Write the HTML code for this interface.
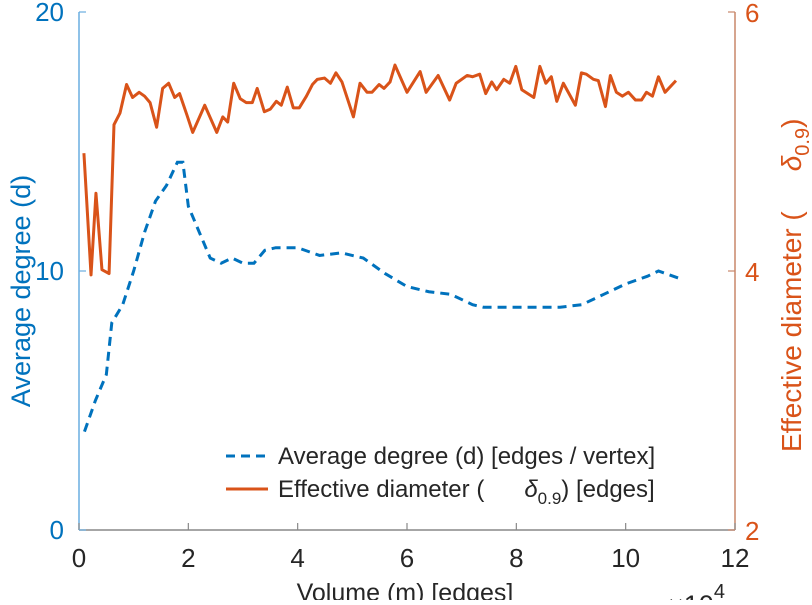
<!DOCTYPE html>
<html><head><meta charset="utf-8"><style>
body{margin:0;background:#fff}
svg text{font-family:"Liberation Sans",sans-serif}
</style></head><body>
<svg id="chart" width="812" height="600" xmlns="http://www.w3.org/2000/svg">
<g id="axes"></g>
<g id="series"></g>
<g id="legend">
  <line x1="226" y1="456" x2="268" y2="456" stroke="#0072BD" stroke-width="3" stroke-dasharray="9,6"/>
  <text x="278" y="464" font-size="24" fill="#262626">Average degree (d) [edges / vertex]</text>
  <line x1="226" y1="489" x2="268" y2="489" stroke="#D95319" stroke-width="3"/>
  <text x="278" y="497" font-size="24" fill="#262626">Effective diameter (<tspan dx="40" font-style="italic">δ</tspan><tspan font-size="17" dy="7">0.9</tspan><tspan dy="-7">) [edges]</tspan></text>
</g>
<text transform="translate(30,291) rotate(-90)" text-anchor="middle" font-size="27" fill="#0072BD">Average degree (d)</text>
<text transform="translate(801,452) rotate(-90)" font-size="28" fill="#D95319">Effective diameter (<tspan dx="40" font-style="italic">δ</tspan><tspan font-size="20" dy="8">0.9</tspan><tspan dy="-8">)</tspan></text>
<text x="405" y="601" text-anchor="middle" font-size="25" fill="#262626">Volume (m) [edges]</text>
<text x="668" y="614" font-size="27" fill="#262626">×10<tspan font-size="20" dy="-16">4</tspan></text>
</svg>
<script>
const blueX=[0.1,0.3,0.5,0.6,0.8,1.0,1.2,1.4,1.6,1.8,1.9,2.0,2.2,2.4,2.6,2.8,3.0,3.2,3.4,3.6,4.0,4.4,4.8,5.2,5.6,6.0,6.4,6.8,7.2,7.4,8.0,8.4,8.8,9.2,9.6,10.0,10.4,10.6,11.0];
const blueY=[3.8,5.0,6.0,8.0,8.7,10.0,11.5,12.7,13.3,14.2,14.2,12.5,11.5,10.5,10.3,10.5,10.3,10.3,10.8,10.9,10.9,10.6,10.7,10.5,9.9,9.4,9.2,9.1,8.7,8.6,8.6,8.6,8.6,8.7,9.1,9.5,9.8,10.0,9.7];
const orangeX=[0.09,0.22,0.31,0.42,0.55,0.64,0.75,0.87,0.98,1.1,1.2,1.3,1.42,1.53,1.64,1.75,1.84,1.97,2.08,2.3,2.52,2.63,2.72,2.83,2.95,3.06,3.17,3.26,3.39,3.5,3.61,3.7,3.81,3.92,4.03,4.16,4.27,4.36,4.49,4.6,4.7,4.81,5.02,5.14,5.27,5.36,5.49,5.58,5.69,5.78,6.0,6.24,6.35,6.57,6.78,6.9,7.1,7.2,7.33,7.44,7.55,7.64,7.77,7.88,7.99,8.1,8.32,8.43,8.54,8.64,8.74,8.86,9.08,9.19,9.28,9.41,9.5,9.63,9.72,9.83,9.94,10.05,10.18,10.29,10.38,10.49,10.6,10.72,10.92];
const orangeY=[4.91,3.97,4.6,4.01,3.98,5.13,5.22,5.44,5.34,5.38,5.35,5.3,5.11,5.41,5.45,5.34,5.37,5.21,5.07,5.28,5.07,5.19,5.15,5.45,5.33,5.3,5.3,5.41,5.23,5.25,5.31,5.28,5.42,5.26,5.26,5.35,5.44,5.48,5.49,5.45,5.53,5.46,5.19,5.45,5.38,5.38,5.44,5.41,5.46,5.59,5.38,5.54,5.38,5.51,5.32,5.45,5.51,5.5,5.52,5.37,5.46,5.4,5.48,5.45,5.58,5.4,5.34,5.58,5.45,5.5,5.31,5.45,5.28,5.53,5.52,5.48,5.47,5.27,5.51,5.38,5.35,5.38,5.32,5.32,5.38,5.35,5.5,5.38,5.47];
const xTicks=[0,2,4,6,8,10,12];
const leftTicks=[0,10,20];
const rightTicks=[2,4,6];
const L=79,R=735,T=12,B=530;
const sx=v=>L+(v-0)/12*(R-L);
const syL=v=>B-(v/20)*(B-T);
const syR=v=>B-((v-2)/4)*(B-T);
const NS='http://www.w3.org/2000/svg';
const axes=document.getElementById('axes'),series=document.getElementById('series');
function mk(tag,attrs,parent){const e=document.createElementNS(NS,tag);for(const k in attrs)e.setAttribute(k,attrs[k]);parent.appendChild(e);return e;}
let e;
e=mk('line',{x1:L,y1:B,x2:R,y2:B,stroke:'#888','stroke-width':1.5},axes);


e=mk('line',{x1:L,y1:T,x2:L,y2:B,stroke:'#6aaee0','stroke-width':1.5},axes);


e=mk('line',{x1:R,y1:T,x2:R,y2:B,stroke:'#c9876a','stroke-width':1.5},axes);


xTicks.forEach(t=>{const x=sx(t);
 e=mk('line',{x1:x,y1:B,x2:x,y2:B-7,stroke:'#888','stroke-width':1.2},axes);
 
 
 e=mk('text',{x:x,y:567,'text-anchor':'middle','font-size':26,fill:'#262626'},axes);e.textContent=t;
 
 
});
leftTicks.forEach(t=>{const y=syL(t);
 e=mk('line',{x1:L,y1:y,x2:L+7,y2:y,stroke:'#6aaee0','stroke-width':1.2},axes);
 
 
 e=mk('text',{x:L-15,y:y+9,'text-anchor':'end','font-size':26,fill:'#0072BD'},axes);e.textContent=t;
 
 
});
rightTicks.forEach(t=>{const y=syR(t);
 e=mk('line',{x1:R,y1:y,x2:R-7,y2:y,stroke:'#c9876a','stroke-width':1.2},axes);
 
 
 e=mk('text',{x:R+10,y:y+10,'font-size':26,fill:'#D95319'},axes);e.textContent=t;
 
 
});
e=mk('polyline',{points:orangeX.map((x,i)=>sx(x)+','+syR(orangeY[i])).join(' '),fill:'none',stroke:'#D95319','stroke-width':3,'stroke-linejoin':'round'},series);


e=mk('polyline',{points:blueX.map((x,i)=>sx(x)+','+syL(blueY[i])).join(' '),fill:'none',stroke:'#0072BD','stroke-width':3,'stroke-dasharray':'9,6'},series);


</script>
</body></html>
